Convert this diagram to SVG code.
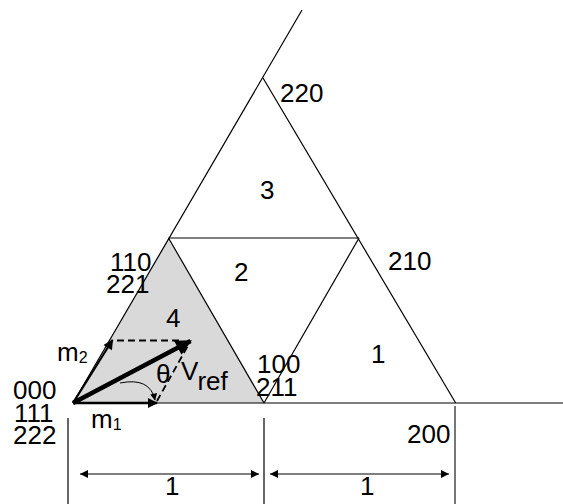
<svg xmlns="http://www.w3.org/2000/svg" width="563" height="504" viewBox="0 0 563 504">
<style>
  text { font-family: "Liberation Sans", Arial, sans-serif; font-size: 26px; fill: #000; }
  .sub { font-size: 16px; }
  .ln { stroke: #000; stroke-width: 1.2; fill: none; }
  .dash { stroke: #000; stroke-width: 1.8; stroke-dasharray: 7 4; fill: none; }
  .dim { stroke: #000; stroke-width: 1.2; fill: none; }
</style>
<defs>
  <marker id="ah" viewBox="0 0 10 10" refX="10" refY="5" markerWidth="10" markerHeight="8" markerUnits="userSpaceOnUse" orient="auto-start-reverse">
    <path d="M0,0 L10,5 L0,10 z" fill="#000"/>
  </marker>
  <marker id="vh" viewBox="0 0 10 10" refX="9" refY="5" markerWidth="20" markerHeight="16" markerUnits="userSpaceOnUse" orient="auto">
    <path d="M0,0 L10,5 L0,10 z" fill="#000"/>
  </marker>
  <marker id="mh" viewBox="0 0 10 10" refX="9" refY="5" markerWidth="14" markerHeight="10" markerUnits="userSpaceOnUse" orient="auto">
    <path d="M0,0 L10,5 L0,10 z" fill="#000"/>
  </marker>
  <marker id="sh" viewBox="0 0 10 10" refX="9" refY="5" markerWidth="8" markerHeight="7" markerUnits="userSpaceOnUse" orient="auto">
    <path d="M0,0 L10,5 L0,10 z" fill="#000"/>
  </marker>
</defs>

<g id="sector4">
  <polygon points="73,403 168.5,238 264,403" fill="#d9d9d9"/>
</g>

<g id="connectors">
  <line class="ln" x1="73" y1="403" x2="302" y2="10"/>
  <line class="ln" x1="263" y1="78" x2="455.7" y2="403"/>
  <line class="ln" x1="168.5" y1="238" x2="359" y2="238"/>
  <line class="ln" x1="168.5" y1="238" x2="264" y2="403"/>
  <line class="ln" x1="264" y1="403" x2="359" y2="238" stroke-width="1.6"/>
  <line class="ln" x1="73" y1="403" x2="563" y2="403" stroke-width="1.5"/>
  <!-- dimension lines -->
  <line class="dim" x1="68" y1="418" x2="68" y2="504"/>
  <line class="dim" x1="264" y1="418" x2="264" y2="504"/>
  <line x1="455" y1="406" x2="455" y2="504" stroke="#777" stroke-width="2"/>
  <line class="dim" x1="80" y1="474" x2="259" y2="474" marker-start="url(#ah)" marker-end="url(#ah)"/>
  <line class="dim" x1="270" y1="474" x2="449" y2="474" marker-start="url(#ah)" marker-end="url(#ah)"/>
  <!-- vectors -->
  <line x1="73" y1="403" x2="190.5" y2="341" stroke="#000" stroke-width="4.5" marker-end="url(#vh)"/>
  <line x1="73" y1="403" x2="112.5" y2="340" stroke="#000" stroke-width="2.2" marker-end="url(#mh)"/>
  <line x1="73" y1="403" x2="157" y2="403" stroke="#000" stroke-width="2.5" marker-end="url(#mh)"/>
  <line class="dash" x1="117" y1="340.5" x2="182" y2="340.5"/>
  <line class="dash" x1="157" y1="401" x2="190" y2="342"/>
  <path d="M120,383 Q150,377 155,400" fill="none" stroke="#000" stroke-width="1" marker-end="url(#sh)"/>
</g>

<g id="labels">
  <text x="280" y="102">220</text>
  <text x="260" y="199">3</text>
  <text x="110" y="271">110</text>
  <text x="106" y="293">221</text>
  <text x="234" y="281">2</text>
  <text x="388" y="270">210</text>
  <text x="166" y="327">4</text>
  <text x="371" y="363">1</text>
  <text x="257" y="373">100</text>
  <text x="256" y="396">211</text>
  <text x="407" y="443">200</text>
  <text x="13" y="399">000</text>
  <text x="14" y="422">111</text>
  <text x="13" y="444">222</text>
  <text x="57" y="361">m<tspan class="sub" dy="2">2</tspan></text>
  <text x="91" y="428">m<tspan class="sub" dy="2">1</tspan></text>
  <text x="156" y="383">θ</text>
  <text x="181" y="380">V<tspan dy="10">ref</tspan></text>
  <text x="165" y="495">1</text>
  <text x="360" y="495">1</text>
</g>
</svg>
